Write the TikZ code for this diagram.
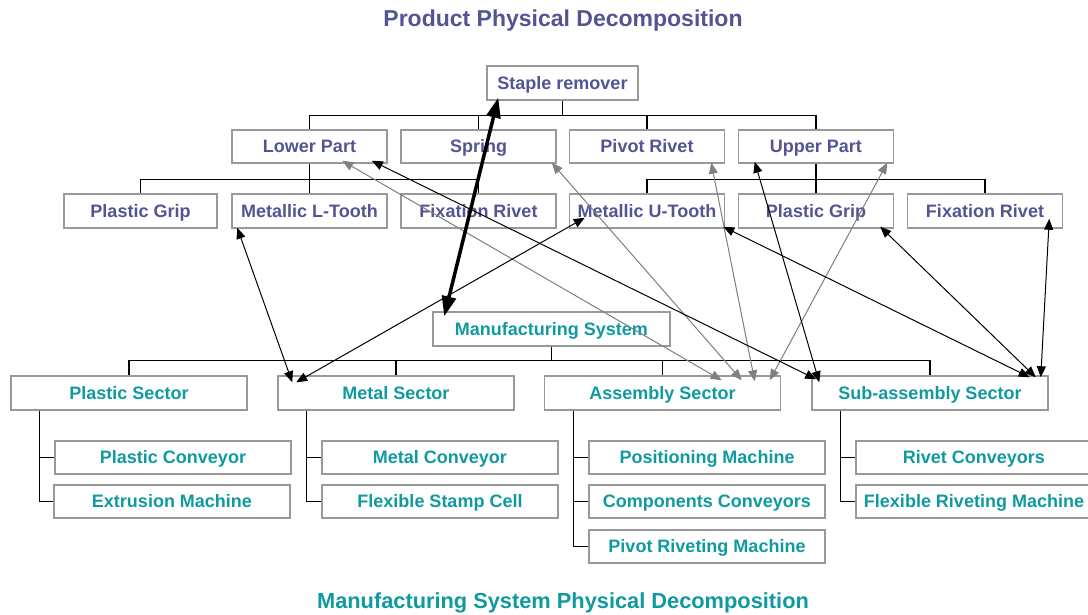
\documentclass[tikz,border=0pt]{standalone}
\usepackage{fontspec}
\setmainfont{Liberation Sans}
\usetikzlibrary{arrows.meta,calc}
\definecolor{prodText}{RGB}{84,84,148}
\definecolor{manText}{RGB}{15,154,160}
\definecolor{boxLine}{RGB}{153,153,153}
\definecolor{linkGray}{RGB}{128,128,128}

\begin{document}
\begin{tikzpicture}[x=1pt,y=-1pt,
            box/.style={rectangle, draw=boxLine, line width=1.5pt, minimum height=33pt, inner sep=0pt, text height=12.9pt, text depth=0pt, font=\fontsize{18}{20}\selectfont\bfseries},
            prodBox/.style={box, minimum width=155pt, text=prodText},
            manBox/.style={box, minimum width=236pt, text=manText},
            title/.style={font=\fontsize{23}{26}\selectfont\bfseries},
            tree/.style={line width=1.2pt},
            link/.style={<->, >={Triangle[length=11pt,width=9pt]}, line width=1pt},
            linkGray/.style={link, draw=linkGray, fill=linkGray},
            linkThick/.style={<->, >={Triangle[length=20pt,width=14pt]}, line width=3.5pt}]

            \useasboundingbox (0,0) rectangle (1088,614);

            \node[title, text=prodText] (prodTitle) at (563,21) {Product Physical Decomposition};
            \node[title, text=manText, font=\fontsize{21.8}{24}\selectfont\bfseries] (manTitle) at (563,603) {Manufacturing System Physical Decomposition};

            % product
            \node[prodBox, minimum width=151pt, minimum height=34pt] (SR) at (562.5,83) {Staple remover};
            \node[prodBox] (LP) at (309.5,146.5) {Lower Part};
            \node[prodBox] (SP) at (478.5,146.5) {Spring};
            \node[prodBox] (PR) at (647,146.5) {Pivot Rivet};
            \node[prodBox] (UP) at (816,146.5) {Upper Part};
            \node[prodBox, minimum width=153pt, minimum height=34pt] (PGa) at (140.5,211) {Plastic Grip};
            \node[prodBox, minimum height=34pt] (LT) at (309.5,211) {Metallic L-Tooth};
            \node[prodBox, minimum height=34pt] (FRa) at (478.5,211) {Fixation Rivet};
            \node[prodBox, minimum height=34pt] (UT) at (647,211) {Metallic U-Tooth};
            \node[prodBox, minimum height=34pt] (PGb) at (816,211) {Plastic Grip};
            \node[prodBox, minimum height=34pt] (FRb) at (985,211) {Fixation Rivet};

            % manufacturing system
            \node[manBox, minimum width=237pt, minimum height=34pt] (MS) at (551.5,329) {Manufacturing System};
            \node[manBox, minimum height=34pt] (PS) at (129,393) {Plastic Sector};
            \node[manBox, minimum height=34pt] (MtS) at (396,393) {Metal Sector};
            \node[manBox, minimum height=34pt] (AS) at (662.5,393) {Assembly Sector};
            \node[manBox, minimum height=34pt] (SAS) at (930,393) {Sub-assembly Sector};
            \node[manBox] (PC) at (173,457.5) {Plastic Conveyor};
            \node[manBox] (EM) at (172,501.5) {Extrusion Machine};
            \node[manBox] (MC) at (440,457.5) {Metal Conveyor};
            \node[manBox] (FSC) at (440,501.5) {Flexible Stamp Cell};
            \node[manBox] (PM) at (707,457.5) {Positioning Machine};
            \node[manBox] (CC) at (707,501.5) {Components Conveyors};
            \node[manBox] (PRM) at (707,546.5) {Pivot Riveting Machine};
            \node[manBox] (RC) at (974,457.5) {Rivet Conveyors};
            \node[manBox] (FRM) at (974,501.5) {Flexible Riveting Machine};

            % trees
            \draw[tree] (SR.south) -- ++(0,15) -| (LP.north);
            \draw[tree] (SR.south) -- ++(0,15) -| (SP.north);
            \draw[tree] (SR.south) -- ++(0,15) -| (PR.north);
            \draw[tree] (SR.south) -- ++(0,15) -| (UP.north);
            \draw[tree] (LP.south) -- ++(0,16) -| (PGa.north);
            \draw[tree] (LP.south) -- ++(0,16) -| (LT.north);
            \draw[tree] (LP.south) -- ++(0,16) -| (FRa.north);
            \draw[tree] (UP.south) -- ++(0,16) -| (UT.north);
            \draw[tree] (UP.south) -- ++(0,16) -| (PGb.north);
            \draw[tree] (UP.south) -- ++(0,16) -| (FRb.north);

            \draw[tree] (MS.south) -- ++(0,14) -| (PS.north);
            \draw[tree] (MS.south) -- ++(0,14) -| (MtS.north);
            \draw[tree] (MS.south) -- ++(0,14) -| (AS.north);
            \draw[tree] (MS.south) -- ++(0,14) -| (SAS.north);
            \draw[tree] ($(PS.south west)+(29,0)$) |- (PC.west);
            \draw[tree] ($(PS.south west)+(29,0)$) |- (EM.west);
            \draw[tree] ($(MtS.south west)+(29,0)$) |- (MC.west);
            \draw[tree] ($(MtS.south west)+(29,0)$) |- (FSC.west);
            \draw[tree] ($(AS.south west)+(30,0)$) |- (PM.west);
            \draw[tree] ($(AS.south west)+(30,0)$) |- (CC.west);
            \draw[tree] ($(AS.south west)+(30,0)$) |- (PRM.west);
            \draw[tree] ($(SAS.south west)+(29,0)$) |- (RC.west);
            \draw[tree] ($(SAS.south west)+(29,0)$) |- (FRM.west);

            % links
            \draw[linkGray] ($(LP.south west)+(111,-3)$) -- ($(AS.north west)+(178,5)$);
            \draw[linkGray] ($(SP.south east)+(-5,-1)$) -- ($(AS.north west)+(198,5)$);
            \draw[linkGray] ($(PR.south east)+(-14,-1)$) -- ($(AS.north west)+(211,6)$);
            \draw[linkGray] ($(UP.south east)+(-7,-1)$) -- ($(AS.north west)+(226,5)$);

            \draw[link] ($(LT.south west)+(6,-1)$) -- ($(MtS.north west)+(15,7)$);
            \draw[link] ($(UT.south west)+(16,-11)$) -- ($(MtS.north west)+(19,7)$);
            \draw[link] ($(LP.south east)+(-16,-3)$) -- ($(SAS.north west)+(5,4)$);
            \draw[link] ($(UP.south west)+(17,-2)$) -- ($(SAS.north west)+(8,7)$);
            \draw[link] ($(UT.south east)+(-2,-2)$) -- ($(SAS.north east)+(-19,2)$);
            \draw[link] ($(PGb.south east)+(-14,-2)$) -- ($(SAS.north east)+(-13,2)$);
            \draw[link] ($(FRb.south east)+(-14,-10)$) -- ($(SAS.north east)+(-8,2)$);

            \draw[linkThick] ($(SR.south west)+(12,-3)$) -- ($(MS.north west)+(12,5)$);

\end{tikzpicture}
\end{document}
